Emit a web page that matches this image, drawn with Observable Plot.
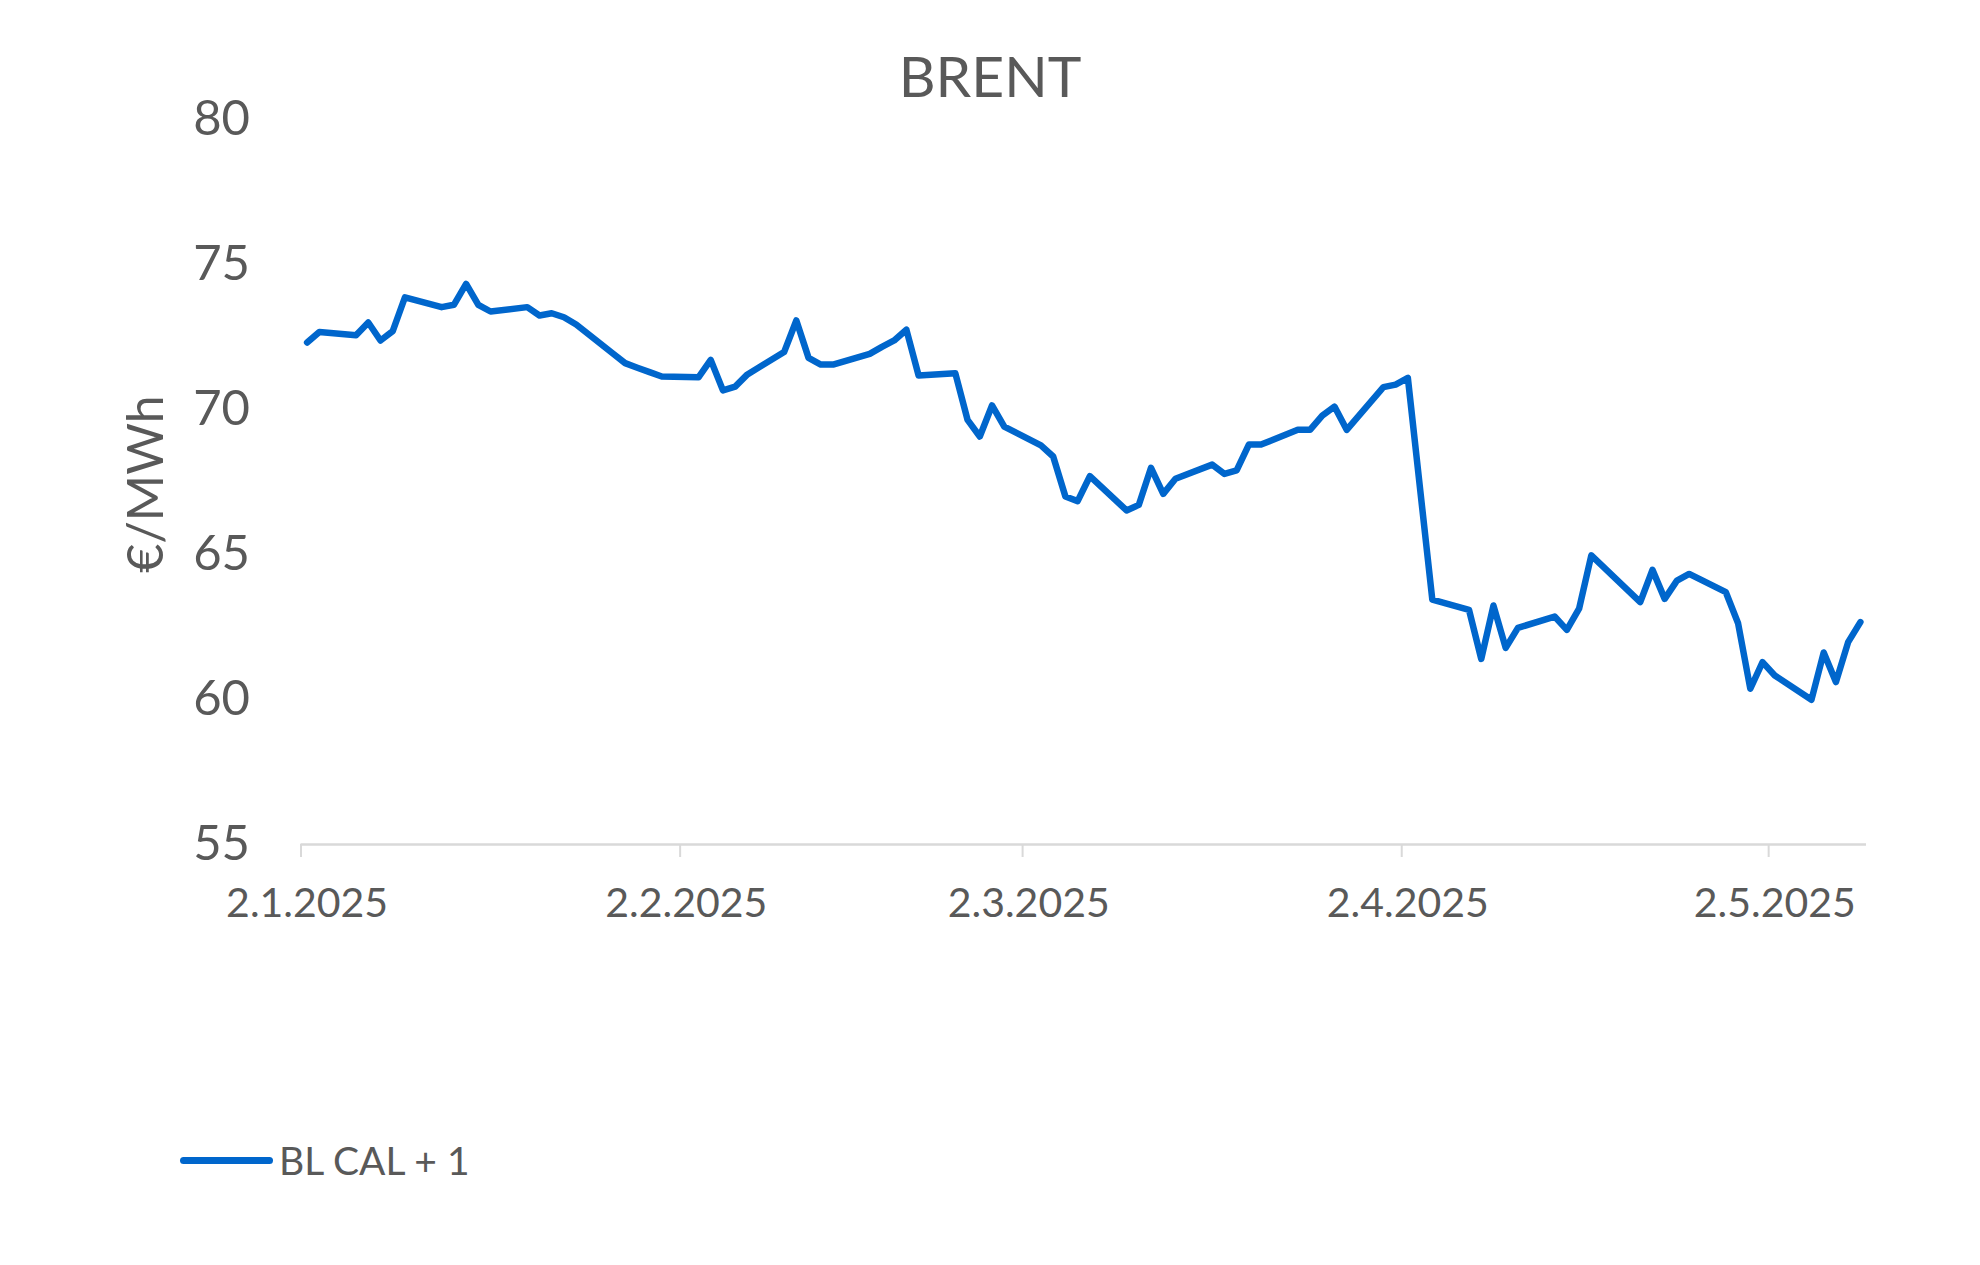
<!DOCTYPE html>
<html>
<head>
<meta charset="utf-8">
<script src="https://cdn.jsdelivr.net/npm/d3@7"></script>
<script src="https://cdn.jsdelivr.net/npm/@observablehq/plot@0.6"></script>
<style>
  body { margin: 0; background: #fff; font-family: Lato, "Open Sans", sans-serif; }
  #wrap { position: relative; width: 1980px; height: 1265px; overflow: hidden; }
  #title { position: absolute; left: 0; width: 1980px; top: 47px; font-size: 57px; line-height: 57px; text-align: center; color: #595959; }
  #ylabel { position: absolute; left: 144px; top: 483.5px; transform: translate(-50%, -50%) rotate(-90deg); font-size: 50px; line-height: 50px; white-space: nowrap; color: #595959; }
  #legend { position: absolute; left: 180px; top: 1140px; height: 40px; display: flex; align-items: center; color: #595959; font-size: 39px; line-height: 40px; }
  #legend .sw { width: 93px; height: 7px; border-radius: 3.5px; background: #0066cc; margin-right: 6px; }
  #chart { position: absolute; left: 0; top: 0; }
</style>
</head>
<body>
<div id="wrap">
  <div id="chart"></div>
  <div id="title">BRENT</div>
  <div id="ylabel"></div>
  <div id="legend"><div class="sw"></div><span id="legendText"></span></div>
</div>
<script>
const seriesName = "BL CAL + 1";
const yLabel = "€/MWh";

const dates = [
  "2025-01-02","2025-01-03","2025-01-06","2025-01-07","2025-01-08","2025-01-09","2025-01-10",
  "2025-01-13","2025-01-14","2025-01-15","2025-01-16","2025-01-17",
  "2025-01-20","2025-01-21","2025-01-22","2025-01-23","2025-01-24",
  "2025-01-27","2025-01-28","2025-01-29","2025-01-30","2025-01-31",
  "2025-02-03","2025-02-04","2025-02-05","2025-02-06","2025-02-07",
  "2025-02-10","2025-02-11","2025-02-12","2025-02-13","2025-02-14",
  "2025-02-17","2025-02-18","2025-02-19","2025-02-20","2025-02-21",
  "2025-02-24","2025-02-25","2025-02-26","2025-02-27","2025-02-28",
  "2025-03-03","2025-03-04","2025-03-05","2025-03-06","2025-03-07",
  "2025-03-10","2025-03-11","2025-03-12","2025-03-13","2025-03-14",
  "2025-03-17","2025-03-18","2025-03-19","2025-03-20","2025-03-21",
  "2025-03-24","2025-03-25","2025-03-26","2025-03-27","2025-03-28",
  "2025-03-31","2025-04-01","2025-04-02","2025-04-04",
  "2025-04-07","2025-04-08","2025-04-09","2025-04-10","2025-04-11",
  "2025-04-14","2025-04-15","2025-04-16","2025-04-17",
  "2025-04-21","2025-04-22","2025-04-23","2025-04-24","2025-04-25",
  "2025-04-28","2025-04-29","2025-04-30","2025-05-01","2025-05-02",
  "2025-05-05","2025-05-06","2025-05-07","2025-05-08","2025-05-09"
];
const values = [
  72.31,72.67,72.56,73.00,72.38,72.70,73.87,
  73.53,73.61,74.33,73.61,73.38,
  73.53,73.24,73.32,73.18,72.93,
  71.93,71.60,71.44,71.29,71.14,
  71.11,71.71,70.66,70.79,71.21,
  71.98,73.07,71.78,71.55,71.55,
  71.92,72.16,72.38,72.75,71.17,
  71.25,69.64,69.07,70.14,69.41,
  68.76,68.38,67.00,66.84,67.70,
  66.52,66.71,67.99,67.09,67.61,
  68.10,67.78,67.90,68.79,68.79,
  69.30,69.30,69.79,70.10,69.30,
  70.77,70.86,71.09,63.44,
  63.09,61.40,63.24,61.78,62.47,
  62.86,62.40,63.13,64.97,
  63.36,64.47,63.47,64.10,64.33,
  63.70,62.63,60.37,61.29,60.83,
  59.99,61.62,60.60,61.98,62.67
];

const xTickDates = ["2025-01-02","2025-02-02","2025-03-02","2025-04-02","2025-05-02"];
const xTickLabels = ["2.1.2025","2.2.2025","2.3.2025","2.4.2025","2.5.2025"];
const yTicks = [55, 60, 65, 70, 75, 80];
const xStart = "2025-01-02";
const xEnd = "2025-05-10";

const HALF_DAY = 12 * 3600 * 1000;
const parse = s => new Date(s + "T00:00:00Z");
const data = dates.map((d, i) => ({date: new Date(+parse(d) + HALF_DAY), value: values[i]}));
const tickData = xTickDates.map((d, i) => ({date: parse(d), mid: new Date(+parse(d) + HALF_DAY), label: xTickLabels[i]}));

const chart = Plot.plot({
  width: 1980,
  height: 944,
  marginTop: 119,
  marginBottom: 100,
  marginLeft: 300.5,
  marginRight: 114,
  style: {fontFamily: "Lato, 'Open Sans', sans-serif", color: "#595959", background: "transparent"},
  x: {type: "utc", domain: [parse(xStart), parse(xEnd)]},
  y: {domain: [55, 80]},
  marks: [
    Plot.axisY(yTicks, {tickSize: 0, tickPadding: 51, fontSize: 49, label: null, fill: "#595959"}),
    Plot.axisX(tickData.map(d => d.date), {tickSize: 13, tickFormat: () => "", label: null, stroke: "#d9d9d9", strokeWidth: 2}),
    Plot.ruleY([55], {stroke: "#d9d9d9", strokeWidth: 2.5}),
    Plot.text(tickData, {x: "mid", text: "label", frameAnchor: "bottom", lineAnchor: "middle", dy: 59, fontSize: 41, fill: "#595959"}),
    Plot.line(data, {x: "date", y: "value", stroke: "#0066cc", strokeWidth: 6.5, strokeLinejoin: "round", strokeLinecap: "round"})
  ]
});
document.getElementById("chart").appendChild(chart);
document.getElementById("ylabel").textContent = yLabel;
document.getElementById("legendText").textContent = seriesName;
</script>
</body>
</html>
